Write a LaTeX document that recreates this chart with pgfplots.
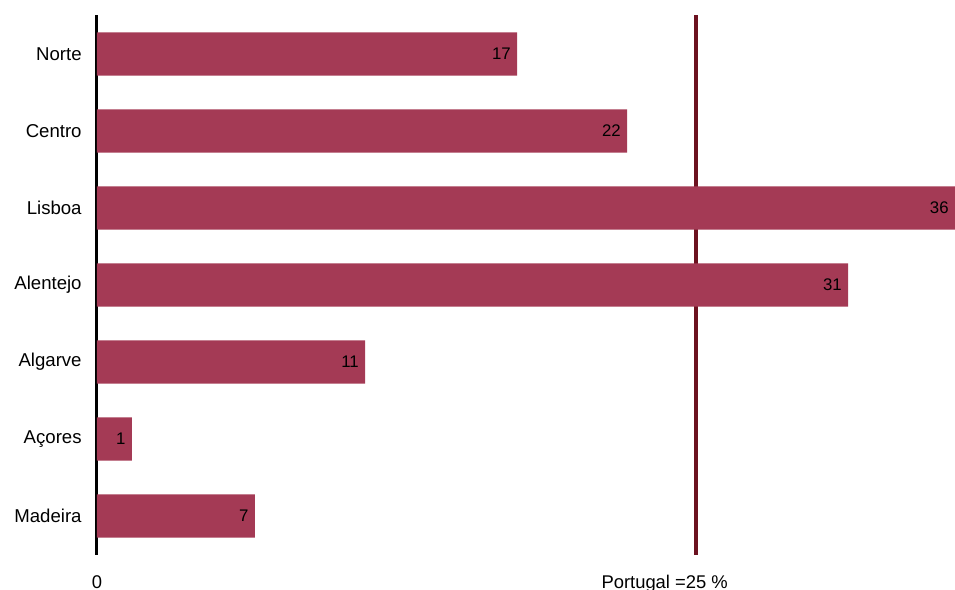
\documentclass[border=0pt]{standalone}
\usepackage{pgfplots}
\pgfplotsset{compat=1.18}
\usepackage{fontspec}
\setmainfont{Liberation Sans}
\definecolor{barc}{HTML}{A43A55}
\definecolor{linec}{HTML}{6C1220}
\begin{document}
\begin{tikzpicture}
\begin{axis}[
  at={(0,0)}, anchor=south west,
  scale only axis,
  width=429pt, height=270pt,
  xmin=0, xmax=35.8,
  ymin=-0.506, ymax=6.506,
  y dir=reverse,
  axis x line=none,
  axis y line*=left,
  y axis line style={line width=1.5pt, black, -},
  ytick={0,1,2,3,4,5,6},
  yticklabels={Norte,Centro,Lisboa,Alentejo,Algarve,Açores,Madeira},
  major tick length=0pt,
  yticklabel style={font=\fontsize{9.3}{11}\selectfont, anchor=east, inner sep=0pt, xshift=-7.5pt},
  clip=false,
]
\addplot[linec, line width=2pt, mark=none] coordinates {(25,-0.506) (25,6.506)};
\addplot[xbar, bar width=0.56, fill=barc, draw=none,
  point meta=explicit symbolic,
  nodes near coords,
  nodes near coords style={anchor=east, inner sep=0pt, xshift=-3pt, font=\fontsize{8.4}{10}\selectfont, text=black}]
  coordinates {
  (17.53,0) [17]
  (22.12,1) [22]
  (35.80,2) [36]
  (31.34,3) [31]
  (11.19,4) [11]
  (1.46,5) [1]
  (6.59,6) [7]
  };
\node[font=\fontsize{9.2}{11}\selectfont, anchor=base, inner sep=0pt] at (axis cs:0,6.506) [yshift=-16.5pt] {0};
\node[font=\fontsize{9.2}{11}\selectfont, anchor=base, inner sep=0pt] at (axis cs:25,6.506) [yshift=-16.5pt] {\llap{Portugal =}25\rlap{ \%}};
\end{axis}
\pgfresetboundingbox
\path (-48.5pt,-17.5pt) rectangle (429pt,277.5pt);
\end{tikzpicture}
\end{document}
